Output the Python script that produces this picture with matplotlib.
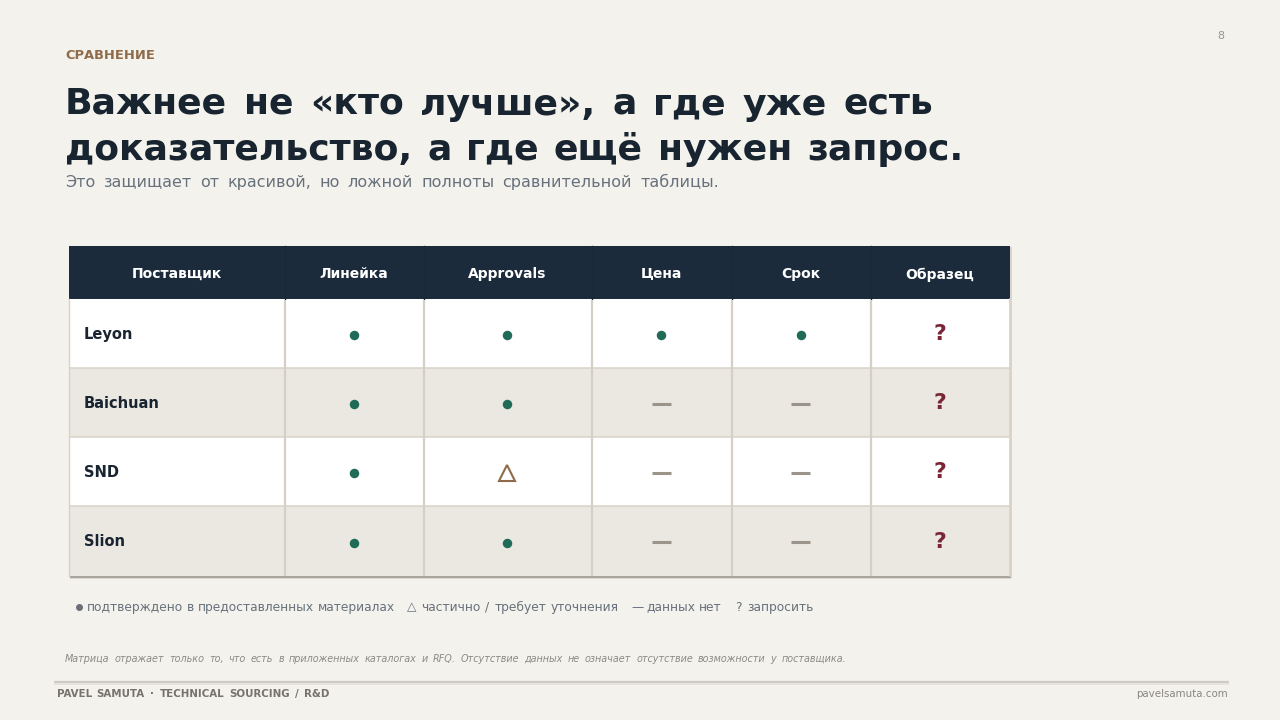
import matplotlib
matplotlib.use("Agg")
import numpy as np
import matplotlib.pyplot as plt
from matplotlib.patches import Rectangle
from matplotlib.font_manager import FontProperties, findfont, get_font
from matplotlib.backends.backend_agg import get_hinting_flag

# ---- data ----
columns = ["Поставщик", "Линейка", "Approvals", "Цена", "Срок", "Образец"]
suppliers = ["Leyon", "Baichuan", "SND", "Slion"]
status_line = ["yes", "yes", "yes", "yes"]
status_approvals = ["yes", "yes", "partial", "yes"]
status_price = ["yes", "none", "none", "none"]
status_term = ["yes", "none", "none", "none"]
status_sample = ["ask", "ask", "ask", "ask"]
kicker = "СРАВНЕНИЕ"
title_lines = ["Важнее не «кто лучше», а где уже есть", "доказательство, а где ещё нужен запрос."]
subtitle = "Это защищает от красивой, но ложной полноты сравнительной таблицы."
legend_items = ["подтверждено в предоставленных материалах", "△ частично / требует уточнения",
                "— данных нет", "? запросить"]
note = "Матрица отражает только то, что есть в приложенных каталогах и RFQ. Отсутствие данных не означает отсутствие возможности у поставщика."
footer_items = ["PAVEL SAMUTA", "·", "TECHNICAL SOURCING / R&D"]
footer_right = "pavelsamuta.com"
page_no = "8"

# ---- layout (pixels) ----
col_edges = [69, 285, 424, 592, 732, 871, 1010]
row_edges = [246, 299, 368, 437, 506, 576]
legend_spans = [(87, 395), (407, 619), (631, 722), (735, 814)]
footer_spans = [(57, 144), (150, 153), (160, 329)]
BG, NAVY, ALT = "#F4F2ED", "#1B2B3C", "#EBE8E1"
LINE, GREEN, BROWN = "#D8D2C8", "#1F6B57", "#8F6B4A"
GREY, WINE, INK = "#9A948B", "#7A2636", "#182430"
SLATE = "#66717C"
FAMILY = "DejaVu Sans"
plt.rcParams["font.family"] = FAMILY

fig = plt.figure(figsize=(12.8, 7.2), dpi=100, facecolor=BG)
ax = fig.add_axes([0, 0, 1, 1])
ax.set_xlim(0, 1280)
ax.set_ylim(720, 0)
ax.axis("off")
rend = fig.canvas.get_renderer()

def px(s):
    return s * 0.72

def baseline_error(s, y, pt, weight, style):
    """How far Agg's glyph bitmap lands from the asked baseline, so words on a line stay level."""
    font = get_font(findfont(FontProperties(family=FAMILY, weight=weight, style=style)))
    font.clear()
    font.set_size(pt, 100)
    font.set_text(s, 0, flags=get_hinting_flag())
    font.draw_glyphs_to_bitmap(antialiased=True)
    img = np.asarray(font.get_image())
    rows = np.where(img.max(axis=1) > 40)[0]
    if len(rows) == 0:
        return 0
    _, h = font.get_width_height()
    d = font.get_descent() / 64
    y_max = h / 64 - d
    bottom = round(y + d) + 1
    return bottom - img.shape[0] + rows[0] - (y - y_max)

def T(x, y, s, size, color, weight="normal", ha="left", style="normal", z=10):
    pt = px(size)
    y_fixed = round(y) - round(baseline_error(s, round(y), pt, weight, style))
    return ax.text(x, y_fixed, s, fontsize=pt, color=color, fontweight=weight, ha=ha, va="baseline",
                   fontstyle=style, zorder=z)

def fitted(x0, x1, y, s, size, color, weight="normal", style="normal"):
    """Draw a line word by word, spreading the word gaps so it spans x0..x1."""
    items = [T(0, y, w, size, color, weight, style=style) for w in s.split()]
    widths = [t.get_window_extent(rend).width for t in items]
    gap = (x1 - x0 - sum(widths)) / max(len(items) - 1, 1)
    x = x0
    for t, w in zip(items, widths):
        t.set_x(x)
        x += w + gap

T(65, 59, kicker, 13, BROWN, "bold")
fitted(65, 933, 115, title_lines[0], 36.3, INK, "bold")
fitted(65, 963, 160, title_lines[1], 36.3, INK, "bold")
fitted(65, 719, 187, subtitle, 16, SLATE)
T(1224, 39, page_no, 11, "#9A948B", ha="right")

x0, x1 = col_edges[0], col_edges[-1]
y0, y1 = row_edges[0], row_edges[-1]
# table shadow
ax.add_patch(Rectangle((x0 + 1, y0 + 1), x1 - x0 + 1, y1 - y0 + 1, fc="#D9D5CD", ec="none", zorder=1))
ax.plot([x0 + 1, x1 + 1], [y1 + 0.8, y1 + 0.8], color="#A9A59D", lw=1.5, zorder=1.5, solid_capstyle="butt")
ax.plot([x0 + 1, x1 + 1], [y1 + 2.3, y1 + 2.3], color="#DAD7D0", lw=1.2, zorder=1.2, solid_capstyle="butt")
# header
ax.add_patch(Rectangle((x0, row_edges[0]), x1 - x0, row_edges[1] - row_edges[0], fc=NAVY, ec="none", zorder=2))
for i, c in enumerate(columns):
    T((col_edges[i] + col_edges[i + 1]) / 2 - 0.5, 278, c, 13.9, "#FFFFFF", "bold", ha="center")
    if i:
        ax.plot([col_edges[i]] * 2, [row_edges[0], row_edges[1]], color="#1A2938", lw=1, zorder=3)

statuses = [status_line, status_approvals, status_price, status_term, status_sample]
for r, name in enumerate(suppliers):
    top, bot = row_edges[r + 1], row_edges[r + 2]
    ax.add_patch(Rectangle((x0, top), x1 - x0, bot - top, fc="#FFFFFF" if r % 2 == 0 else ALT, ec="none", zorder=2))
    if r < len(suppliers) - 1:
        ax.plot([x0, x1], [bot, bot], color=LINE, lw=1.1, zorder=3, solid_capstyle="butt")
    cy = (top + bot) / 2
    T(84, cy + 5.5, name, 14.6, INK, "bold")
    for c, col in enumerate(statuses):
        cx = (col_edges[c + 1] + col_edges[c + 2]) / 2 - 0.8
        v = col[r]
        if v == "yes":
            ax.plot(cx, cy + 1.8, "o", ms=px(9.5), color=GREEN, mec="none", zorder=5)
        elif v == "partial":
            ax.plot(cx, cy + 1.2, "^", ms=px(15.5), mfc="none", mec=BROWN, mew=1.5, zorder=5)
        elif v == "none":
            ax.plot([cx - 9.5, cx + 9.5], [cy + 1.2, cy + 1.2], color=GREY, lw=2.2, zorder=5, solid_capstyle="butt")
        else:
            T(cx + 0.5, cy + 6.6, "?", 22, WINE, "bold", ha="center")
# vertical grid
for x in col_edges[1:-1]:
    ax.plot([x, x], [row_edges[1] + 1, y1], color="#D5D0C7", lw=1.6, zorder=4, solid_capstyle="butt")
ax.plot([x0, x0], [row_edges[1], y1], color=LINE, lw=1, zorder=4)
ax.plot([x1, x1], [row_edges[1], y1], color=LINE, lw=1.2, zorder=4)

# legend
ax.plot(79, 606.5, "o", ms=px(7), color="#6B7078", mec="none", zorder=5)
for (a, b), s in zip(legend_spans, legend_items):
    fitted(a, b, 611, s, 12.3, SLATE)
fitted(65, 846, 662, note, 9.7, "#8C8A84", style="italic")

for y, c, lw in [(682, "#CFCBC2", 1.6), (684, "#E4E1DA", 1.2)]:
    ax.plot([54, 1229], [y, y], color=c, lw=lw, zorder=3, solid_capstyle="butt")
for (a, b), s in zip(footer_spans, footer_items):
    fitted(a, b, 697, s, 10.3, "#77736C", "bold")
T(1228, 697, footer_right, 10.3, "#8A8780", ha="right")

fig.savefig("out.png", dpi=100, facecolor=BG)
